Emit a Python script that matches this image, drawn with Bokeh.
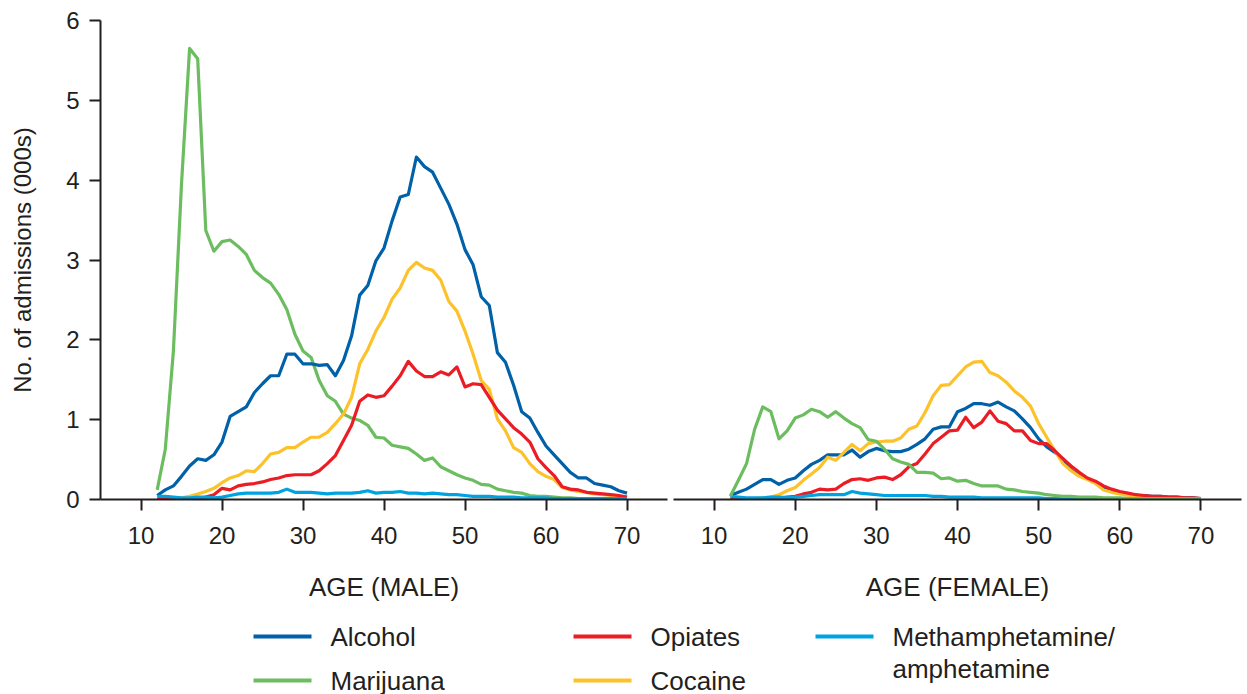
from bokeh.plotting import figure
from bokeh.layouts import column, row
from bokeh.models import Range1d, FixedTicker
from bokeh.core.properties import value
from bokeh.embed import file_html
from bokeh.resources import INLINE

ages = list(range(12, 71))

male_alcohol = [0.05, 0.12, 0.17, 0.29, 0.42, 0.51, 0.49, 0.56, 0.72,
                1.04, 1.10, 1.16, 1.34, 1.45, 1.55, 1.55, 1.82, 1.82, 1.70,
                1.70, 1.68, 1.69, 1.55, 1.74, 2.05, 2.56, 2.68, 2.99, 3.15,
                3.49, 3.79, 3.82, 4.29, 4.17, 4.10, 3.90, 3.70, 3.45, 3.13,
                2.94, 2.54, 2.43, 1.84, 1.72, 1.43, 1.10, 1.02, 0.84, 0.67,
                0.56, 0.45, 0.34, 0.27, 0.27, 0.20, 0.18, 0.16, 0.11, 0.08]
male_marijuana = [0.12, 0.63, 1.86, 3.95, 5.65, 5.52, 3.37, 3.11, 3.23,
                  3.25, 3.17, 3.07, 2.87, 2.78, 2.71, 2.57, 2.38, 2.07, 1.86,
                  1.78, 1.49, 1.30, 1.23, 1.07, 1.02, 0.99, 0.93, 0.78, 0.77,
                  0.68, 0.66, 0.64, 0.57, 0.49, 0.52, 0.41, 0.36, 0.31, 0.27,
                  0.24, 0.19, 0.18, 0.13, 0.11, 0.09, 0.08, 0.05, 0.04, 0.04,
                  0.03, 0.02, 0.02, 0.01, 0.01, 0.01, 0.01, 0.01, 0.01, 0.01]
male_cocaine = [0.00, 0.00, 0.01, 0.02, 0.04, 0.07, 0.10, 0.14, 0.21,
                0.27, 0.30, 0.36, 0.35, 0.45, 0.57, 0.59, 0.65, 0.65, 0.72,
                0.78, 0.78, 0.84, 0.95, 1.07, 1.28, 1.70, 1.88, 2.11, 2.28,
                2.51, 2.65, 2.87, 2.97, 2.90, 2.87, 2.75, 2.48, 2.36, 2.11,
                1.82, 1.49, 1.38, 1.01, 0.86, 0.65, 0.59, 0.45, 0.35, 0.29,
                0.25, 0.15, 0.12, 0.10, 0.09, 0.07, 0.06, 0.05, 0.04, 0.03]
male_opiates = [0.00, 0.00, 0.00, 0.00, 0.01, 0.01, 0.03, 0.06, 0.14,
                0.12, 0.17, 0.19, 0.20, 0.22, 0.25, 0.27, 0.30, 0.31, 0.31,
                0.31, 0.36, 0.45, 0.55, 0.74, 0.93, 1.23, 1.31, 1.28, 1.30,
                1.42, 1.55, 1.73, 1.61, 1.54, 1.54, 1.60, 1.56, 1.66, 1.41,
                1.45, 1.44, 1.28, 1.12, 1.01, 0.90, 0.82, 0.72, 0.51, 0.40,
                0.30, 0.16, 0.13, 0.12, 0.09, 0.08, 0.07, 0.06, 0.05, 0.03]
male_meth = [0.04, 0.04, 0.03, 0.02, 0.02, 0.03, 0.03, 0.02, 0.03,
             0.05, 0.07, 0.08, 0.08, 0.08, 0.08, 0.09, 0.13, 0.09, 0.09,
             0.09, 0.08, 0.07, 0.08, 0.08, 0.08, 0.09, 0.11, 0.08, 0.09,
             0.09, 0.10, 0.08, 0.08, 0.07, 0.08, 0.07, 0.06, 0.06, 0.05,
             0.04, 0.04, 0.04, 0.03, 0.03, 0.03, 0.02, 0.02, 0.02, 0.02,
             0.01, 0.01, 0.01, 0.01, 0.01, 0.01, 0.01, 0.01, 0.01, 0.01]

female_alcohol = [0.05, 0.09, 0.13, 0.19, 0.25, 0.25, 0.19, 0.24, 0.27,
                  0.36, 0.44, 0.49, 0.56, 0.56, 0.56, 0.62, 0.53, 0.60, 0.64,
                  0.61, 0.60, 0.60, 0.63, 0.69, 0.76, 0.88, 0.91, 0.91, 1.10,
                  1.14, 1.20, 1.20, 1.18, 1.22, 1.16, 1.11, 1.01, 0.90, 0.76,
                  0.66, 0.59, 0.51, 0.37, 0.30, 0.26, 0.22, 0.15, 0.12, 0.09,
                  0.07, 0.05, 0.05, 0.04, 0.04, 0.03, 0.03, 0.02, 0.02, 0.01]
female_marijuana = [0.04, 0.24, 0.45, 0.88, 1.16, 1.10, 0.76, 0.86, 1.02,
                    1.06, 1.13, 1.10, 1.03, 1.10, 1.02, 0.95, 0.90, 0.75, 0.73,
                    0.63, 0.51, 0.47, 0.44, 0.34, 0.34, 0.33, 0.26, 0.27, 0.23,
                    0.24, 0.20, 0.17, 0.17, 0.17, 0.13, 0.12, 0.10, 0.09, 0.08,
                    0.06, 0.05, 0.04, 0.04, 0.03, 0.03, 0.03, 0.02, 0.02, 0.02,
                    0.01, 0.01, 0.01, 0.01, 0.01, 0.01, 0.01, 0.01, 0.01, 0.01]
female_cocaine = [0.00, 0.00, 0.00, 0.01, 0.02, 0.03, 0.06, 0.11, 0.15,
                  0.24, 0.32, 0.40, 0.53, 0.49, 0.59, 0.69, 0.61, 0.70, 0.72,
                  0.73, 0.73, 0.77, 0.88, 0.92, 1.09, 1.30, 1.43, 1.44, 1.55,
                  1.66, 1.72, 1.73, 1.59, 1.55, 1.47, 1.36, 1.28, 1.17, 0.95,
                  0.78, 0.61, 0.45, 0.36, 0.29, 0.25, 0.20, 0.12, 0.09, 0.07,
                  0.05, 0.04, 0.03, 0.03, 0.02, 0.02, 0.02, 0.01, 0.01, 0.01]
female_opiates = [0.00, 0.00, 0.00, 0.00, 0.01, 0.01, 0.02, 0.03, 0.04,
                  0.07, 0.09, 0.13, 0.12, 0.13, 0.20, 0.25, 0.26, 0.24, 0.27,
                  0.28, 0.25, 0.31, 0.41, 0.45, 0.57, 0.70, 0.78, 0.86, 0.87,
                  1.03, 0.90, 0.97, 1.11, 0.98, 0.95, 0.86, 0.86, 0.74, 0.70,
                  0.70, 0.61, 0.51, 0.42, 0.34, 0.27, 0.23, 0.17, 0.13, 0.10,
                  0.08, 0.06, 0.05, 0.04, 0.04, 0.03, 0.03, 0.02, 0.02, 0.01]
female_meth = [0.04, 0.03, 0.02, 0.02, 0.02, 0.03, 0.03, 0.02, 0.03,
               0.04, 0.05, 0.06, 0.06, 0.06, 0.06, 0.10, 0.08, 0.07, 0.06,
               0.05, 0.05, 0.05, 0.05, 0.05, 0.05, 0.04, 0.04, 0.03, 0.03,
               0.03, 0.03, 0.02, 0.02, 0.02, 0.02, 0.02, 0.02, 0.02, 0.02,
               0.01, 0.01, 0.01, 0.01, 0.01, 0.01, 0.01, 0.01, 0.01, 0.01,
               0.01, 0.01, 0.01, 0.01, 0.01, 0.01, 0.01, 0.01, 0.01, 0.01]

series_names = ["Alcohol", "Opiates", "Methamphetamine/\namphetamine", "Marijuana", "Cocaine"]
series_colors = {"Alcohol": "#0061a9", "Opiates": "#ec1c24", "Methamphetamine/\namphetamine": "#00a3e2",
                 "Marijuana": "#6cbd5f", "Cocaine": "#fdc12a"}

x_ticks = [10, 20, 30, 40, 50, 60, 70]
y_ticks = [0, 1, 2, 3, 4, 5, 6]

for arr in [male_alcohol, male_marijuana, male_cocaine, male_opiates, male_meth,
            female_alcohol, female_marijuana, female_cocaine, female_opiates, female_meth]:
    assert len(arr) == len(ages), len(arr)

FONT = "Liberation Sans"
INK = "#231f20"


def style_axes(p, title):
    p.xaxis.ticker = FixedTicker(ticks=x_ticks)
    p.xaxis.axis_label = title
    p.xaxis.axis_label_text_font = FONT
    p.xaxis.axis_label_text_font_style = "normal"
    p.xaxis.axis_label_text_font_size = "26px"
    p.xaxis.axis_label_text_color = INK
    p.xaxis.axis_label_standoff = 25
    p.xaxis.major_label_text_font = FONT
    p.xaxis.major_label_text_font_size = "24px"
    p.xaxis.major_label_text_color = INK
    p.xaxis.major_label_standoff = 16
    p.xaxis.major_tick_out = 11
    p.xaxis.major_tick_in = 0
    p.xaxis.minor_tick_out = 0
    p.xaxis.minor_tick_in = 0
    p.xaxis.axis_line_width = 2
    p.xaxis.major_tick_line_width = 2
    p.xaxis.axis_line_color = INK
    p.xaxis.major_tick_line_color = INK
    p.xgrid.visible = False
    p.ygrid.visible = False
    p.outline_line_color = None


p1 = figure(width=670, height=615, x_range=Range1d(5, 75), y_range=Range1d(0, 6),
            output_backend="svg", toolbar_location=None,
            min_border_left=100, min_border_right=3, min_border_top=20, min_border_bottom=116)
style_axes(p1, "AGE (MALE)")
p1.yaxis.ticker = FixedTicker(ticks=y_ticks)
p1.yaxis.axis_label = "No. of admissions (000s)"
p1.yaxis.axis_label_text_font = FONT
p1.yaxis.axis_label_text_font_style = "normal"
p1.yaxis.axis_label_text_font_size = "24px"
p1.yaxis.axis_label_text_color = INK
p1.yaxis.axis_label_standoff = 27
p1.yaxis.major_label_text_font = FONT
p1.yaxis.major_label_text_font_size = "24px"
p1.yaxis.major_label_text_color = INK
p1.yaxis.major_label_standoff = 10
p1.yaxis.major_tick_out = 11
p1.yaxis.major_tick_in = 0
p1.yaxis.minor_tick_out = 0
p1.yaxis.minor_tick_in = 0
p1.yaxis.axis_line_width = 2
p1.yaxis.major_tick_line_width = 2
p1.yaxis.axis_line_color = INK
p1.yaxis.major_tick_line_color = INK

p2 = figure(width=574, height=615, x_range=Range1d(5, 75), y_range=Range1d(0, 6),
            output_backend="svg", toolbar_location=None, y_axis_location=None,
            min_border_left=3, min_border_right=3, min_border_top=20, min_border_bottom=116)
style_axes(p2, "AGE (FEMALE)")

male = {"Alcohol": male_alcohol, "Opiates": male_opiates, "Methamphetamine/\namphetamine": male_meth,
        "Marijuana": male_marijuana, "Cocaine": male_cocaine}
female = {"Alcohol": female_alcohol, "Opiates": female_opiates, "Methamphetamine/\namphetamine": female_meth,
          "Marijuana": female_marijuana, "Cocaine": female_cocaine}

male_order = ["Marijuana", "Alcohol", "Cocaine", "Opiates", "Methamphetamine/\namphetamine"]
female_order = ["Alcohol", "Cocaine", "Opiates", "Methamphetamine/\namphetamine", "Marijuana"]
for name in male_order:
    p1.line(ages, male[name], line_color=series_colors[name], line_width=3.2, line_join="round")
for name in female_order:
    p2.line(ages, female[name], line_color=series_colors[name], line_width=3.2, line_join="round")

# legend panel (page-pixel coordinates)
leg = figure(width=1247, height=79, x_range=Range1d(0, 1247), y_range=Range1d(694, 615),
             output_backend="svg", toolbar_location=None, x_axis_location=None, y_axis_location=None,
             min_border=0)
leg.xgrid.visible = False
leg.ygrid.visible = False
leg.outline_line_color = None

leg_x = [253, 573, 815, 253, 573]
leg_y = [636, 636, 636, 680, 680]
for name, lx, ly in zip(series_names, leg_x, leg_y):
    leg.segment(x0=[lx], y0=[ly], x1=[lx + 58], y1=[ly], line_color=series_colors[name], line_width=4)
    lines = name.split("\n")
    for i, t in enumerate(lines):
        leg.text(x=[lx + 77], y=[ly + 32 * i], text=[t], text_font=value(FONT), text_font_size="26px",
                 text_color=INK, text_align="left", text_baseline="middle")

layout = column(row(p1, p2), leg)
open("out.html", "w").write(file_html(layout, INLINE))
